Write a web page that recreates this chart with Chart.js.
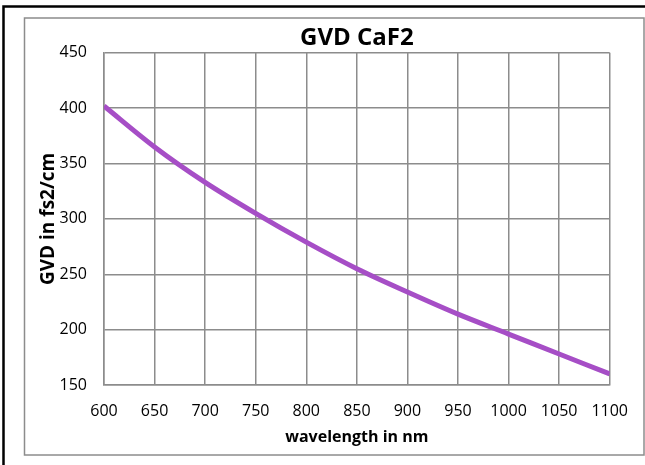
<!DOCTYPE html>
<html>
<head>
<meta charset="utf-8">
<script src="https://cdn.jsdelivr.net/npm/chart.js@4/dist/chart.umd.min.js"></script>
<style>
  html,body{margin:0;padding:0;background:#fff;}
  #wrap{width:645px;height:465px;}
</style>
</head>
<body>
<div id="wrap"><canvas id="myChartGVD" width="645" height="465"></canvas></div>
<script>
// dados
const wavelength = [600, 650, 700, 750, 800, 850, 900, 950, 1000, 1050, 1100];
const gvd = [402, 365, 333, 305, 279, 255, 234, 214, 196, 178, 160];
const xTicks = [600, 650, 700, 750, 800, 850, 900, 950, 1000, 1050, 1100];
const yTicks = [150, 200, 250, 300, 350, 400, 450];

const fonte = "'Open Sans', 'Noto Sans', sans-serif";
const corGrade = '#8c8c8c';

// moldura (borda preta e borda cinza)
const moldura = {
    id: 'moldura',
    beforeDraw(chart){
        const ctx = chart.ctx;
        ctx.save();
        ctx.fillStyle = '#fff';
        ctx.fillRect(0, 0, chart.width, chart.height);
        ctx.restore();
    },
    afterDraw(chart){
        const ctx = chart.ctx;
        ctx.save();
        ctx.strokeStyle = '#000';
        ctx.lineWidth = 2.5;
        ctx.beginPath();
        ctx.moveTo(3.5, 465);
        ctx.lineTo(3.5, 6.5);
        ctx.lineTo(645, 6.5);
        ctx.stroke();
        ctx.strokeStyle = corGrade;
        ctx.lineWidth = 1.5;
        ctx.strokeRect(24.5, 18, 619.5, 437);
        ctx.restore();
    }
};

const pontos = wavelength.map((w, i) => ({x: w, y: gvd[i]}));

const grafico = new Chart(document.getElementById('myChartGVD'), {
    type: 'line',
    data: {
        datasets: [{
            label: 'GVD CaF2',
            data: pontos,
            borderColor: '#a64ec6',
            backgroundColor: 'transparent',
            borderWidth: 5,
            pointRadius: 0,
            cubicInterpolationMode: 'monotone'
        }]
    },
    options: {
        responsive: false,
        animation: false,
        layout: {
            padding: {left: 24, right: 34, top: 18, bottom: 10}
        },
        plugins: {
            legend: {display: false},
            tooltip: {enabled: false},
            title: {
                display: true,
                fullSize: false,
                text: 'GVD CaF2',
                color: '#000',
                font: {family: fonte, size: 24, weight: 'bold'},
                padding: {top: 6, bottom: 0}
            }
        },
        scales: {
            x: {
                type: 'linear',
                min: 600,
                max: 1100,
                afterBuildTicks(scale){
                    scale.ticks = xTicks.map(v => ({value: v}));
                },
                afterFit(scale){
                    scale.height = 70;
                },
                grid: {color: corGrade, lineWidth: 1.5, drawTicks: false},
                border: {color: corGrade, width: 1.5},
                ticks: {
                    color: '#000',
                    font: {family: fonte, size: 16},
                    padding: 17,
                    maxRotation: 0,
                    callback: v => String(v)
                },
                title: {
                    display: true,
                    text: 'wavelength in nm',
                    color: '#000',
                    font: {family: fonte, size: 16, weight: 'bold'},
                    padding: {top: 0, bottom: 8}
                }
            },
            y: {
                min: 150,
                max: 450,
                afterBuildTicks(scale){
                    scale.ticks = yTicks.map(v => ({value: v}));
                },
                afterFit(scale){
                    scale.width = 80;
                },
                grid: {color: corGrade, lineWidth: 1.5, drawTicks: false},
                border: {color: corGrade, width: 1.5},
                ticks: {
                    color: '#000',
                    font: {family: fonte, size: 16},
                    padding: 17,
                    callback: v => String(v)
                },
                title: {
                    display: true,
                    text: 'GVD in fs2/cm',
                    color: '#000',
                    font: {family: fonte, size: 19, weight: 'bold'},
                    padding: {top: 13, bottom: 0}
                }
            }
        }
    },
    plugins: [moldura]
});
</script>
</body>
</html>
